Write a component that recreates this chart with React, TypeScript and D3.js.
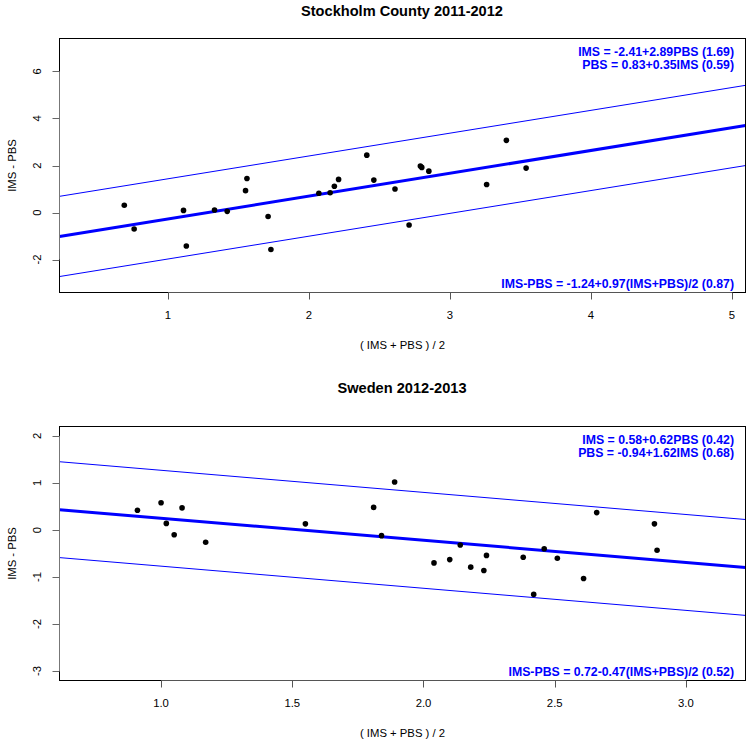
import React from "react";
import * as d3 from "d3";

// ---------- data ----------
const stockholmMean = [0.69, 0.76, 1.11, 1.13, 1.33, 1.42, 1.55, 1.56, 1.71, 1.73, 2.07, 2.15, 2.18, 2.21, 2.41, 2.46, 2.61, 2.71, 2.79, 2.8, 2.85, 3.26, 3.4, 3.54];
const stockholmDiff = [0.31, -0.7, 0.09, -1.42, 0.11, 0.05, 0.93, 1.45, -0.17, -1.57, 0.82, 0.84, 1.12, 1.41, 2.44, 1.38, 1.0, -0.53, 1.98, 1.92, 1.76, 1.19, 3.07, 1.89];

const swedenMean = [0.91, 1.0, 1.02, 1.05, 1.08, 1.17, 1.55, 1.81, 1.84, 1.89, 2.04, 2.1, 2.14, 2.18, 2.23, 2.24, 2.38, 2.42, 2.46, 2.51, 2.61, 2.66, 2.88, 2.89];
const swedenDiff = [0.42, 0.58, 0.14, -0.1, 0.47, -0.26, 0.13, 0.48, -0.12, 1.02, -0.7, -0.63, -0.32, -0.79, -0.86, -0.54, -0.58, -1.37, -0.4, -0.6, -1.03, 0.37, 0.13, -0.43];

const titles = ["Stockholm County 2011-2012", "Sweden 2012-2013"];
const equationsTop = [
  ["IMS = -2.41+2.89PBS (1.69)", "PBS = 0.83+0.35IMS (0.59)"],
  ["IMS = 0.58+0.62PBS (0.42)", "PBS = -0.94+1.62IMS (0.68)"],
];
const equationsBottom = ["IMS-PBS = -1.24+0.97(IMS+PBS)/2 (0.87)", "IMS-PBS = 0.72-0.47(IMS+PBS)/2 (0.52)"];
const fitIntercept = [-1.24, 0.72];
const fitSlope = [0.97, -0.47];
const fitSd = [0.87, 0.52];

const stockholmXTicks = [1, 2, 3, 4, 5];
const stockholmYTicks = [-2, 0, 2, 4, 6];
const swedenXTicks = [1.0, 1.5, 2.0, 2.5, 3.0];
const swedenYTicks = [-3, -2, -1, 0, 1, 2];

const xLabel = "( IMS + PBS ) / 2";
const yLabel = "IMS - PBS";

// ---------- layout ----------
const W = 749;
const H = 742;
const LEFT = 59.5;
const RIGHT = 745.5;
const FONT = "'Liberation Sans', Arial, Helvetica, sans-serif";
const BLUE = "#0000ff";

type PanelProps = {
  idx: number;
  top: number;
  bottom: number;
  titleY: number;
  xs: number[];
  ys: number[];
  xDomain: [number, number];
  yDomain: [number, number];
  xTicks: number[];
  yTicks: number[];
  xFmt: (v: number) => string;
};

function Panel(p: PanelProps) {
  const x = d3.scaleLinear().domain(p.xDomain).range([LEFT, RIGHT]);
  const y = d3.scaleLinear().domain(p.yDomain).range([p.bottom, p.top]);
  const a = fitIntercept[p.idx];
  const b = fitSlope[p.idx];
  const lim = 1.96 * fitSd[p.idx];
  const line = d3
    .line<number>()
    .x((v) => x(v))
    .y((v) => y(a + b * v + 0))
    ;
  const ends = p.xDomain;
  const mkLine = (off: number) =>
    d3
      .line<number>()
      .x((v) => x(v))
      .y((v) => y(a + b * v + off))(ends as unknown as number[]) || "";
  const clipId = `clip${p.idx}`;
  const midX = (LEFT + RIGHT) / 2;
  const midY = (p.top + p.bottom) / 2;
  return (
    <g>
      <defs>
        <clipPath id={clipId}>
          <rect x={LEFT} y={p.top} width={RIGHT - LEFT} height={p.bottom - p.top} />
        </clipPath>
      </defs>
      <text x={402} y={p.titleY} dy="0.35em" textAnchor="middle" fontFamily={FONT} fontWeight="bold" fontSize={14.6} fill="#000">
        {titles[p.idx]}
      </text>
      <g clipPath={`url(#${clipId})`}>
        <path d={mkLine(lim)} stroke={BLUE} strokeWidth={1} fill="none" />
        <path d={mkLine(-lim)} stroke={BLUE} strokeWidth={1} fill="none" />
        <path d={line(ends as unknown as number[]) || ""} stroke={BLUE} strokeWidth={3} fill="none" />
        {p.xs.map((v, i) => (
          <circle key={i} cx={x(v)} cy={y(p.ys[i])} r={2.8} fill="#000" />
        ))}
      </g>
      <rect x={LEFT} y={p.top} width={RIGHT - LEFT} height={p.bottom - p.top} fill="none" stroke="#000" strokeWidth={1} />
      {/* y axis */}
      <line x1={LEFT} x2={LEFT} y1={y(p.yTicks[0])} y2={y(p.yTicks[p.yTicks.length - 1])} stroke="#777" strokeWidth={1} />
      {p.yTicks.map((t) => (
        <g key={t}>
          <line x1={LEFT - 7} x2={LEFT} y1={Math.round(y(t)) + 0.5} y2={Math.round(y(t)) + 0.5} stroke="#666" strokeWidth={1} />
          <text
            x={37.5}
            y={y(t)}
            dy="0.35em"
            textAnchor="middle"
            transform={`rotate(-90, 37.5, ${y(t)})`}
            fontFamily={FONT}
            fontSize={11.3}
            fill="#000"
          >
            {String(t)}
          </text>
        </g>
      ))}
      {/* x axis */}
      <line x1={x(p.xTicks[0])} x2={x(p.xTicks[p.xTicks.length - 1])} y1={p.bottom} y2={p.bottom} stroke="#555" strokeWidth={1} />
      {p.xTicks.map((t) => (
        <g key={t}>
          <line x1={Math.round(x(t)) + 0.5} x2={Math.round(x(t)) + 0.5} y1={p.bottom} y2={p.bottom + 7} stroke="#555" strokeWidth={1} />
          <text x={x(t)} y={p.bottom + 23} dy="0.35em" textAnchor="middle" fontFamily={FONT} fontSize={11.3} fill="#000">
            {p.xFmt(t)}
          </text>
        </g>
      ))}
      <text x={midX} y={p.bottom + 53} dy="0.35em" textAnchor="middle" fontFamily={FONT} fontSize={11.3} fill="#000">
        {xLabel}
      </text>
      <text
        x={12}
        y={midY}
        dy="0.35em"
        textAnchor="middle"
        transform={`rotate(-90, 12, ${midY})`}
        fontFamily={FONT}
        fontSize={11.3}
        fill="#000"
      >
        {yLabel}
      </text>
      {/* equations */}
      {equationsTop[p.idx].map((s, i) => (
        <text key={i} x={734} y={p.top + 13.5 + i * 12.6} dy="0.35em" textAnchor="end" fontFamily={FONT} fontWeight="bold" fontSize={12.3} fill={BLUE}>
          {s}
        </text>
      ))}
      <text x={734} y={p.bottom - 8.5} dy="0.35em" textAnchor="end" fontFamily={FONT} fontWeight="bold" fontSize={12.3} fill={BLUE}>
        {equationsBottom[p.idx]}
      </text>
    </g>
  );
}

export default function App() {
  return (
    <svg width={W} height={H} style={{ position: "absolute", left: 0, top: 0, background: "#fff" }}>
      <rect x={0} y={0} width={W} height={H} fill="#fff" />
      <Panel
        idx={0}
        top={38.5}
        bottom={292.5}
        titleY={11}
        xs={stockholmMean}
        ys={stockholmDiff}
        xDomain={[0.2305, 5.096]}
        yDomain={[-3.4, 7.4]}
        xTicks={stockholmXTicks}
        yTicks={stockholmYTicks}
        xFmt={(v) => d3.format("d")(v)}
      />
      <Panel
        idx={1}
        top={426.5}
        bottom={680.5}
        titleY={388}
        xs={swedenMean}
        ys={swedenDiff}
        xDomain={[0.613, 3.227]}
        yDomain={[-3.2, 2.2]}
        xTicks={swedenXTicks}
        yTicks={swedenYTicks}
        xFmt={(v) => d3.format(".1f")(v)}
      />
    </svg>
  );
}
